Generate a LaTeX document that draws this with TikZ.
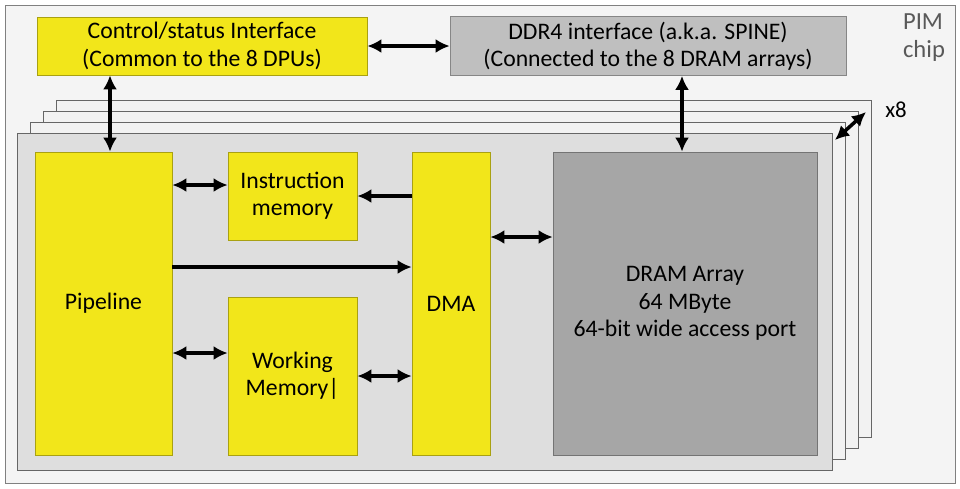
\documentclass[tikz,border=0pt]{standalone}
\usepackage{fontspec}
\setmainfont{Carlito}
\usetikzlibrary{arrows.meta}
\definecolor{chipbg}{HTML}{F4F4F4}
\definecolor{layerbg}{HTML}{DEDEDE}
\definecolor{pimyellow}{HTML}{F2E61A}
\definecolor{pimgray}{HTML}{BFBFBF}
\definecolor{drgray}{HTML}{A6A6A6}
\tikzset{
  blk/.style={draw=#1!70!black, thin, align=center, font=\fontsize{13.5}{15.5}\selectfont, inner sep=0pt},
  ybox/.style={blk=pimyellow, fill=pimyellow},
  link/.style={line width=2pt, {Latex[length=8pt,width=8pt]}-{Latex[length=8pt,width=8pt]}},
  onelink/.style={line width=2pt, -{Latex[length=8pt,width=8pt]}}
}
\begin{document}
\begin{tikzpicture}[x=0.02cm, y=-0.02cm]
		% chip outline
		\useasboundingbox (0,0) rectangle (960,488);
		\draw[gray, fill=chipbg] (5,5) rectangle (955,483);
		\node[gray!70!black, align=left, font=\fontsize{14}{16}\selectfont] (chip) at (924,38) {PIM\\chip};

		% stacked DPU layers
		\foreach \k in {3,2,1} {
			\draw[gray!80!black, fill=white!60!layerbg] (17+13*\k,133-11*\k) rectangle (832+13*\k,470-11*\k);
		}
		\draw[gray!80!black, fill=layerbg] (17,133) rectangle (832,470);
		\node[font=\fontsize{13}{15}\selectfont] (xeight) at (896,110) {x8};
		\coordinate (sa) at (835,140);
		\coordinate (sb) at (866,112);
		\draw[link] (sa) -- (sb);

		% top interfaces
		\node[ybox, minimum width=330*0.02cm, minimum height=58*0.02cm] (ctrl) at (202,46)
			{Control/status Interface\\(Common to the 8 DPUs)};
		\node[blk=pimgray, fill=pimgray, minimum width=396*0.02cm, minimum height=59*0.02cm] (ddr) at (648,46)
			{DDR4 interface (a.k.a. SPINE)\\(Connected to the 8 DRAM arrays)};

		% DPU blocks
		\node[ybox, minimum width=137*0.02cm, minimum height=303*0.02cm] (pipe) at (103.5,303.5) {Pipeline};
		\node[ybox, minimum width=129*0.02cm, minimum height=88*0.02cm] (imem) at (292.5,196) {Instruction\\memory};
		\node[ybox, minimum width=129*0.02cm, minimum height=158*0.02cm] (wmem) at (292.5,376) {Working\\Memory|};
		\node[ybox, minimum width=78*0.02cm, minimum height=303*0.02cm] (dma) at (451,303.5) {DMA};
		\node[blk=drgray, fill=drgray, minimum width=264*0.02cm, minimum height=303*0.02cm] (dram) at (685,303.5)
			{DRAM Array\\64 MByte\\64-bit wide access port};

		% connections
		\draw[link] (ctrl.east) -- (ddr.west);
		\draw[link] (ctrl.south -| 110,0) -- (pipe.north -| 110,0);
		\draw[link] (ddr.south -| 682,0) -- (dram.north -| 682,0);
		\draw[link] (pipe.east |- 0,185) -- (imem.west |- 0,185);
		\draw[onelink] (dma.west |- 0,196) -- (imem.east |- 0,196);
		\draw[onelink] (pipe.east |- 0,267) -- (dma.west |- 0,267);
		\draw[link] (pipe.east |- 0,353) -- (wmem.west |- 0,353);
		\draw[link] (wmem.east |- 0,376) -- (dma.west |- 0,376);
		\draw[link] (dma.east |- 0,237) -- (dram.west |- 0,237);
	\end{tikzpicture}
\end{document}
